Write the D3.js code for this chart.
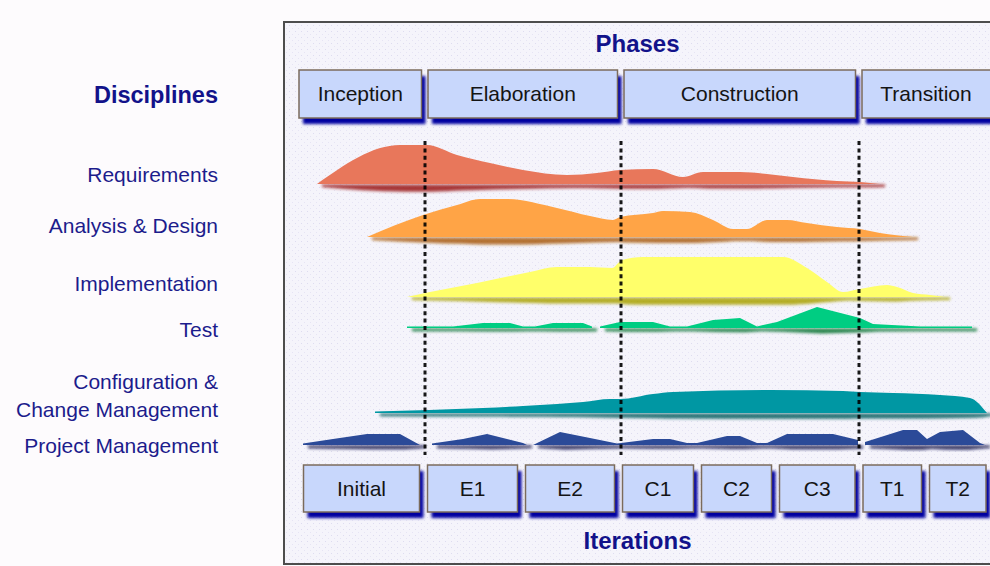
<!DOCTYPE html>
<html>
<head>
<meta charset="utf-8">
<script src="https://d3js.org/d3.v7.min.js"></script>
<style>
body{margin:0;background:#fdfbfd;overflow:hidden;}
text{font-family:"Liberation Sans",Arial,sans-serif;}
</style>
</head>
<body>
<div id="chart"></div>
<script>
// phases / iterations, positions along project time (arbitrary units)
const phases=["Inception","Elaboration","Construction","Transition"];
const phaseBounds=[0,12.9,32.5,56.3,71];
const iterations=["Initial","E1","E2","C1","C2","C3","T1","T2"];
const iterBounds=[0.35,12.75,22.55,32.25,40.15,47.95,56.3,62.95,69.4];
const disciplineLabels=[["Requirements"],["Analysis & Design"],["Implementation"],["Test"],["Configuration &","Change Management"],["Project Management"]];

// effort curves: [time, effort], null = break in the curve
const requirements=[[2.1,0],[10.4,9.75],[13.1,9.75],[16.1,7.25],[19.4,5.25],[22.7,3.5],[27.1,2.25],[30.1,2.75],[32.4,3.5],[35.7,3.75],[38.7,1.75],[40.7,3],[44.4,3],[47.1,2.5],[49.7,1.75],[54.1,0.75],[56.4,0.5],[58.4,0]];
const analysisDesign=[[7.1,0],[12.7,5.5],[16.1,8],[18.4,9.5],[21.1,9.5],[26.1,7.25],[29.4,5.25],[31.7,4.25],[32.4,5],[35.7,6],[36.7,6.5],[39.4,6.25],[41.7,4.25],[43.7,2],[45.1,2],[47.1,4.25],[49.1,4.25],[51.1,3.5],[54.1,2.5],[56.4,2],[58.4,1],[61.7,0]];
const implementation=[[11.1,0],[13.4,1.25],[18.1,3.5],[23.4,6.25],[26.1,7.5],[29.4,7.5],[31.6,7.25],[32.6,9.25],[34.7,10],[48.7,10],[51.1,7.25],[53.1,3.75],[54.7,1.25],[56.4,2],[59.1,3],[60.1,2.5],[61.7,1],[63.4,0.5],[64.9,0]];
const test=[[11.1,0.4],[15.7,0.4],[18.7,1.25],[21.4,1.25],[22.7,0.4],[23.9,0.4],[25.7,1.25],[28.7,1.25],[29.6,0.4],null,[30.4,0.4],[32.4,1.5],[35.7,1.5],[37.4,0.4],[39.1,0.4],[41.7,2],[44.4,2.5],[46.1,0.4],[48.1,1.5],[52.1,5.25],[56.4,2.5],[57.7,1],[62.4,0.4],[67.6,0.4]];
const configMgmt=[[7.9,0.4],[18.7,1.25],[22.7,1.75],[26.1,2.25],[28.7,2.75],[31.4,3.5],[32.4,3.5],[35.7,4.75],[37.7,5.25],[47.4,5.75],[54.7,5.5],[56.4,5.25],[59.7,5],[64.4,4.5],[67.4,3.75],[69.1,0]];
const projectMgmt=[[0.7,0.4],[3.7,1.5],[7.1,2.75],[10.4,2.75],[12.4,0],null,[13.6,0.4],[16.7,1.5],[19.1,2.75],[22.7,0.5],[23.1,0],null,[23.7,0],[26.4,3.25],[29.4,1.75],[32.1,0.4],[35.7,1.5],[37.4,1.5],[39.1,0.5],[40.1,0.5],[43.1,2.25],[44.4,2.25],[46.1,0.5],[47.1,0.5],[49.1,2.75],[53.7,2.75],[56.2,1.25],null,[56.9,0.75],[60.7,3.75],[62.1,3.75],[63.1,1.5],[64.4,3.25],[66.7,3.75],[68.4,0.5],[68.9,0]];
const series=[requirements,analysisDesign,implementation,test,configMgmt,projectMgmt];

// layout
const W=990,H=566;
const rowBase=[184,237,297,328,413,445];
const labelY=[[182],[233],[291],[337],[389,417],[453]];
const colors=["#e8775b","#ffa446","#ffff6a","#00cd82","#0097a3","#2b4a98"];
const shadowColors=["#9a1515","#a85a08","#a9a200","#00702c","#005a5c","#0a0a45"];
const curves=[d3.curveMonotoneX,d3.curveMonotoneX,d3.curveMonotoneX,d3.curveLinear,d3.curveMonotoneX,d3.curveLinear];

const x=d3.scaleLinear().domain([0,70]).range([296,996]);
const h=d3.scaleLinear().domain([0,10]).range([0,40]);

const svg=d3.select("#chart").append("svg").attr("width",W).attr("height",H);
const defs=svg.append("defs");
const pat=defs.append("pattern").attr("id","dots").attr("width",6).attr("height",6).attr("patternUnits","userSpaceOnUse");
pat.append("rect").attr("width",6).attr("height",6).attr("fill","#f5f4fb");
pat.append("rect").attr("x",1).attr("y",1).attr("width",1).attr("height",1).attr("fill","#dedcf0");
pat.append("rect").attr("x",4).attr("y",4).attr("width",1).attr("height",1).attr("fill","#e6e4f4");
defs.append("filter").attr("id","blur").attr("x","-10%").attr("y","-50%").attr("width","120%").attr("height","200%")
  .append("feGaussianBlur").attr("stdDeviation",1.4);
defs.append("filter").attr("id","boxblur").attr("x","-10%").attr("y","-20%").attr("width","120%").attr("height","140%")
  .append("feGaussianBlur").attr("stdDeviation",1.6);

// panel
svg.append("rect").attr("x",284).attr("y",22).attr("width",800).attr("height",542)
  .attr("fill","url(#dots)").attr("stroke","#4d4d4d").attr("stroke-width",2);

svg.append("text").attr("x",637.5).attr("y",52).attr("text-anchor","middle")
  .style("font-weight","bold").style("font-size","24px").attr("fill","#12128a").text("Phases");
svg.append("text").attr("x",637.5).attr("y",549).attr("text-anchor","middle")
  .style("font-weight","bold").style("font-size","24px").attr("fill","#12128a").text("Iterations");
svg.append("text").attr("x",218).attr("y",103).attr("text-anchor","end")
  .style("font-weight","bold").style("font-size","23.5px").attr("fill","#12128a").text("Disciplines");

// discipline labels
disciplineLabels.forEach(function(lines,i){
  lines.forEach(function(l,j){
    svg.append("text").attr("x",218).attr("y",labelY[i][j]).attr("text-anchor","end")
      .style("font-size","21px").attr("fill","#1c1c8c").text(l);
  });
});

function boxes(names,bounds,top,bottom,inL,inR){
  const g=svg.append("g");
  names.forEach(function(n,i){
    const x0=x(bounds[i])+inL, x1=Math.min(x(bounds[i+1])-inR,1000);
    g.append("rect").attr("x",x0+4).attr("y",top+6).attr("width",x1-x0).attr("height",bottom-top)
      .attr("fill","#0000a0").attr("filter","url(#boxblur)");
    g.append("rect").attr("x",x0).attr("y",top).attr("width",x1-x0).attr("height",bottom-top)
      .attr("fill","#c8d7fc").attr("stroke","#7b6b5c").attr("stroke-width",1.5);
    g.append("text").attr("x",(x0+Math.min(x1,990))/2).attr("y",(top+bottom)/2+7).attr("text-anchor","middle")
      .style("font-size","21px").attr("fill","#141414").text(n);
  });
}
boxes(phases,phaseBounds,70,118,3,3.5);
boxes(iterations,iterBounds,465,512,4,4);

// humps
series.forEach(function(s,i){
  const base=rowBase[i];
  const shadow=d3.area().defined(d=>d!==null).curve(curves[i])
    .x(d=>x(d[0])+5).y0(d=>base+3+h(d[1])*0.12).y1(base+0.5);
  svg.append("path").datum(s).attr("d",shadow).attr("fill",shadowColors[i])
    .attr("opacity",0.85).attr("filter","url(#blur)");
  const area=d3.area().defined(d=>d!==null).curve(curves[i])
    .x(d=>x(d[0])).y0(base).y1(d=>base-h(d[1]));
  svg.append("path").datum(s).attr("d",area).attr("fill",colors[i]);
});

// phase separators
phaseBounds.slice(1,4).forEach(function(b){
  svg.append("line").attr("x1",x(b)).attr("x2",x(b)).attr("y1",141).attr("y2",455)
    .attr("stroke","#000").attr("stroke-width",3).attr("stroke-dasharray","4,3.4").attr("opacity",0.9);
});
</script>
</body>
</html>
